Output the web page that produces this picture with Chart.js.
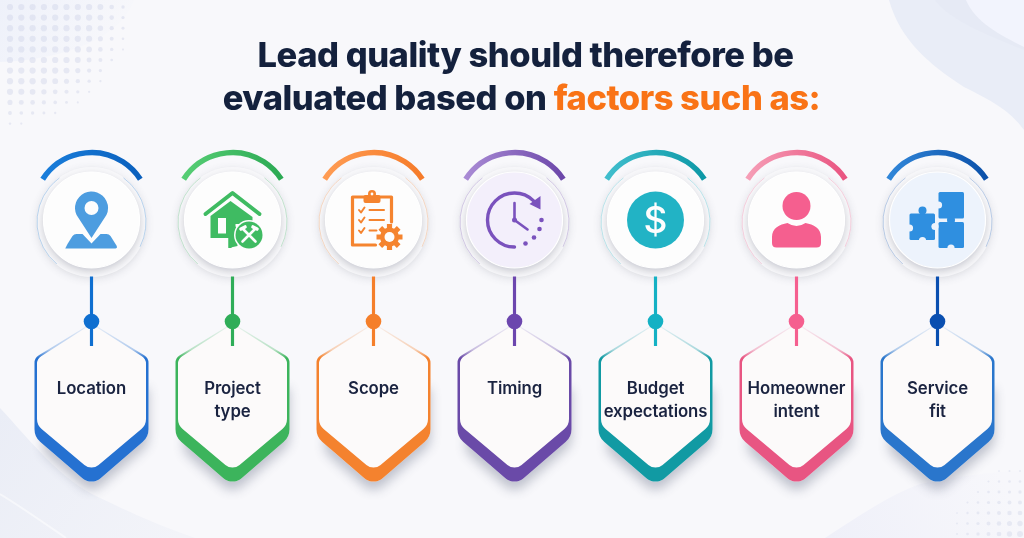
<!DOCTYPE html>
<html><head><meta charset="utf-8">
<style>html,body{margin:0;padding:0;background:#f8f8fb;overflow:hidden}canvas{display:block;filter:blur(.35px)}</style>
<script src="https://cdn.jsdelivr.net/npm/chart.js@4"></script>
</head><body><canvas id="c" width="1024" height="538"></canvas>
<script>
const categories=['Location','Project type','Scope','Timing','Budget expectations','Homeowner intent','Service fit'];
const labelLines=[['Location'],['Project','type'],['Scope'],['Timing'],['Budget','expectations'],['Homeowner','intent'],['Service','fit']];
const nodeLevels=[323,323,323,323,323,323,323];
const stemRanges=[[277,348],[277,348],[277,348],[277,348],[277,348],[277,348],[277,348]];
const titleLine1='Lead quality should therefore be';
const titleLine2a='evaluated based on ';
const titleLine2b='factors such as:';
const nodeColors=['#0f6fd0','#2fad58','#f57f2a','#6c46ae','#14b1c4','#f55f8f','#0a4fb0'];
const arcLight=['#1a7fdc','#58cf76','#ff9d55','#ab8dd6','#42bfce','#f6a0b8','#3288da'];
const arcDark=['#0a5fbc','#2aa852','#f57a28','#6a45a8','#0b97a5','#e9527f','#0a4fa8'];
const hexColors=['#2571d1','#3cb45c','#f4822e','#6a4aa8','#119aa3','#e85582','#2a76cc'];
const iconColors=['#4d9de0','#3fbb62','#f5842f','#7a52bd','#22b3c5','#f55f8f','#2f8fe0'];
const discFills=['#fdfdfd','#fdfdfd','#fdfdfd','#f3effb','#fdfdfd','#fdfdfd','#edf3fc'];
const ink='#14213d', orange='#f97316';

function poly(ctx,pts,radii){
  const n=pts.length;ctx.beginPath();
  const a=pts[n-1],b=pts[0];ctx.moveTo((a[0]+b[0])/2,(a[1]+b[1])/2);
  for(let i=0;i<n;i++){const p=pts[i],q=pts[(i+1)%n];ctx.arcTo(p[0],p[1],q[0],q[1],radii[i]);}
  ctx.closePath();
}
function hexOuter(ctx,c){poly(ctx,[[c,323],[c+57,358],[c+57,437],[c,486],[c-57,437],[c-57,358]],[0,9,17,14,17,9]);}
function hexInner(ctx,c){poly(ctx,[[c,324],[c+54.5,359],[c+54.5,425],[c,471],[c-54.5,425],[c-54.5,359]],[0,9,13,11,13,9]);}

const icons=[
 function pin(g,col){g.fillStyle=col;
  g.beginPath();g.moveTo(-26,28);g.quadraticCurveTo(-26,28,-24,24);g.lineTo(-19,16);g.quadraticCurveTo(-17.5,14,-15,14);g.lineTo(-9,14);g.lineTo(0,23.5);g.lineTo(9,14);g.lineTo(15,14);g.quadraticCurveTo(17.5,14,19,16);g.lineTo(24,24);g.quadraticCurveTo(27,28,24,28.5);g.lineTo(-24,28.5);g.quadraticCurveTo(-27,28.5,-26,28);g.fill();
  g.beginPath();g.arc(0,-12,16.5,Math.PI*0.86,Math.PI*0.14);g.lineTo(0,18);g.closePath();g.fill();
  g.fillStyle='#fdfdfd';g.beginPath();g.arc(0,-12,7,0,7);g.fill();},
 function house(g,col){g.strokeStyle=col;g.fillStyle=col;g.lineCap='round';g.lineJoin='round';
  g.lineWidth=4;g.beginPath();g.moveTo(-27,-6);g.lineTo(0,-27);g.lineTo(27,-6);g.stroke();
  g.beginPath();g.moveTo(-22,-4);g.lineTo(-2,-19);g.lineTo(20,-3);g.lineTo(20,4);g.lineTo(-1,4);g.lineTo(-1,28);g.lineTo(-4,28);g.lineTo(-4,18);g.lineTo(-22,18);g.closePath();g.fill();
  g.fillStyle='#fdfdfd';g.beginPath();g.rect(-14.5,-2,8,15.5);g.fill();
  g.fillStyle=col;g.beginPath();g.moveTo(-3,-3);g.lineTo(3,-3);g.lineTo(3,6);g.lineTo(5,12);g.lineTo(5,26);g.lineTo(-4,28);g.lineTo(-4,12);g.lineTo(-3,6);g.closePath();g.fill();
  g.fillStyle='#fdfdfd';g.beginPath();g.arc(16.5,15,15,0,7);g.fill();
  g.fillStyle=col;g.beginPath();g.arc(16.5,15,13.5,0,7);g.fill();
  g.strokeStyle='#fdfdfd';g.lineWidth=2.6;g.lineCap='round';g.beginPath();g.moveTo(10,8.5);g.lineTo(23,21.5);g.moveTo(23,8.5);g.lineTo(10,21.5);g.stroke();
  g.lineWidth=3.6;g.beginPath();g.moveTo(8.5,9);g.lineTo(12.5,7);g.moveTo(20.5,7);g.lineTo(24.5,9);g.stroke();},
 function clip(g,col){g.strokeStyle=col;g.fillStyle=col;g.lineWidth=3.2;g.lineJoin='round';g.lineCap='round';
  g.beginPath();g.moveTo(2,25);g.lineTo(-21,25);g.lineTo(-21,-23);g.lineTo(18,-23);g.lineTo(18,2);g.stroke();
  g.beginPath();g.roundRect(-10,-25,17,8,2);g.fill();g.beginPath();g.arc(-1.5,-26,4,0,7);g.fill();
  g.fillStyle='#fdfdfd';g.beginPath();g.arc(-1.5,-26,1.4,0,7);g.fill();g.fillStyle=col;
  g.lineWidth=2;[-10,0,10.5].forEach((y,i)=>{g.beginPath();g.moveTo(-14.5,y);g.lineTo(-12.5,y+2.5);g.lineTo(-9,y-2.5);g.stroke();
   g.beginPath();g.moveTo(-4,y);g.lineTo(i==2?3:10.5,y);g.stroke();});
  g.beginPath();
  for(let k=0;k<8;k++){const a=k*Math.PI/4;const ca=Math.cos(a),sa=Math.sin(a);const xs=[[-2.6,-13],[2.6,-13],[2.6,-7],[-2.6,-7]];g.moveTo(16+xs[0][0]*ca-xs[0][1]*sa,17+xs[0][0]*sa+xs[0][1]*ca);for(let j=1;j<4;j++)g.lineTo(16+xs[j][0]*ca-xs[j][1]*sa,17+xs[j][0]*sa+xs[j][1]*ca);g.closePath();}
  g.fill();g.beginPath();g.arc(16,17,9.5,0,7);g.fill();g.fillStyle='#fdfdfd';g.beginPath();g.arc(16,17,5,0,7);g.fill();},
 function clock(g,col){g.strokeStyle=col;g.fillStyle=col;g.lineWidth=3.4;g.lineCap='round';g.lineJoin='round';
  g.beginPath();g.arc(0,0,27,Math.PI*0.5,Math.PI*1.75);g.stroke();
  g.beginPath();g.moveTo(15,-16);g.lineTo(26,-10.5);g.lineTo(26,-24);g.closePath();g.fill();
  g.lineWidth=2.6;g.beginPath();g.moveTo(0,-17);g.lineTo(0,0);g.lineTo(13,9.5);g.stroke();
  g.beginPath();g.arc(0,0,2.5,0,7);g.fill();
  [[27,0],[25,9],[19.5,17.5],[11,23.5]].forEach(p=>{g.beginPath();g.arc(p[0],p[1],2.3,0,7);g.fill();});},
 function dollar(g,col){g.fillStyle=col;g.beginPath();g.arc(0,0,28.5,0,7);g.fill();
  g.fillStyle='#fdfdfd';g.font='500 37px Inter';g.textAlign='center';g.textBaseline='middle';g.fillText('$',0,1.5);},
 function person(g,col){g.fillStyle=col;g.beginPath();g.arc(0,-14,14,0,7);g.fill();
  g.beginPath();g.moveTo(-24.5,23);g.lineTo(-24.5,17);g.bezierCurveTo(-24.5,8,-17,4.5,-9,3);g.quadraticCurveTo(0,9,9,3);g.bezierCurveTo(17,4.5,24.5,8,24.5,17);g.lineTo(24.5,23);g.quadraticCurveTo(24.5,27.5,20,27.5);g.lineTo(-20,27.5);g.quadraticCurveTo(-24.5,27.5,-24.5,23);g.fill();},
 function puzzle(g,col,fill){g.fillStyle=col;
  g.beginPath();g.roundRect(-28,-6.5,25.5,26.5,1.5);g.fill();g.beginPath();g.arc(-15,-9.5,4,0,7);g.fill();
  g.beginPath();g.roundRect(1,-28,25.5,26.5,1.5);g.fill();
  g.beginPath();g.roundRect(1,2,25.5,26,1.5);g.fill();g.beginPath();g.arc(13.5,0,4,0,7);g.fill();
  g.fillStyle=fill;g.beginPath();g.arc(-2.5,6.5,3.6,0,7);g.arc(-28,8,3.6,0,7);g.fill();
  g.beginPath();g.arc(-15,20.5,3.6,0,7);g.fill();g.beginPath();g.arc(1,-15,3.6,0,7);g.fill();g.beginPath();g.arc(13.5,28,3.6,0,7);g.fill();}
];

const backdrop={id:'backdrop',beforeDraw(chart){const g=chart.ctx;g.save();
  g.fillStyle='#f8f8fb';g.fillRect(0,0,1024,538);
  g.fillStyle='#e9edf7';g.beginPath();g.moveTo(889,0);g.bezierCurveTo(900,40,930,65,964,87);g.bezierCurveTo(990,100,1010,110,1024,130);g.lineTo(1024,0);g.closePath();g.fill();
  g.fillStyle='#e6eaf5';g.beginPath();g.moveTo(935,0);g.bezierCurveTo(950,20,980,32,1024,50);g.lineTo(1024,0);g.closePath();g.fill();
  g.fillStyle='#f2f4fd';g.beginPath();g.moveTo(966,0);g.bezierCurveTo(975,22,1000,35,1024,47);g.lineTo(1024,0);g.closePath();g.fill();
  let gr=g.createLinearGradient(0,0,110,70);gr.addColorStop(0,'#eef1fa');gr.addColorStop(1,'#f8f8fb');
  g.fillStyle=gr;g.beginPath();g.moveTo(0,0);g.lineTo(134,0);g.bezierCurveTo(120,40,60,60,0,62);g.closePath();g.fill();
  gr=g.createLinearGradient(0,410,180,538);gr.addColorStop(0,'#eaedf6');gr.addColorStop(1,'#f3f4f9');
  g.fillStyle=gr;g.beginPath();g.moveTo(0,408);g.bezierCurveTo(30,440,60,480,100,498);g.bezierCurveTo(130,512,150,522,195,538);g.lineTo(0,538);g.closePath();g.fill();
  g.strokeStyle='rgba(255,255,255,.5)';g.lineWidth=2;g.beginPath();g.moveTo(0,494);g.bezierCurveTo(20,506,40,520,66,538);g.stroke();
  gr=g.createLinearGradient(830,538,1000,470);gr.addColorStop(0,'#eff0f9');gr.addColorStop(1,'#f7f7fb');
  g.fillStyle=gr;g.beginPath();g.moveTo(825,538);g.bezierCurveTo(860,515,890,495,920,484);g.bezierCurveTo(960,475,1000,472,1024,470);g.lineTo(1024,538);g.closePath();g.fill();
  for(let r=0;r<12;r++)for(let k=0;k<12;k++){const x=10+k*11.3,y=7+r*10.6;const d=Math.max(0,1-((x/135)**2+(y/128)**2)**1.2);
    if(d<=0.02)continue;g.fillStyle='rgba(205,210,232,.42)';g.beginPath();g.arc(x,y,Math.min(3.1,0.9+d*4),0,7);g.fill();}
  for(let r=0;r<7;r++)for(let k=0;k<7;k++){const x=1020-k*10.5,y=534-r*10.5;const d=1-Math.hypot(k/6.5,r/6.5);
    if(d<=0.02)continue;g.fillStyle='rgba(205,210,232,.38)';g.beginPath();g.arc(x,y,0.8+d*2.2,0,7);g.fill();}
  g.restore();}};

const decor={id:'decor',beforeDatasetsDraw(chart){const g=chart.ctx,xs=chart.scales.x;
  categories.forEach((cat,i)=>{const c=xs.getPixelForValue(i);g.save();
    g.save();g.shadowColor='rgba(60,70,100,.30)';g.shadowBlur=11;g.shadowOffsetY=8;g.fillStyle='#f8f8fb';
    poly(g,[[c,380],[c+57,380],[c+57,437],[c,486],[c-57,437]],[0,4,17,14,17]);g.fill();g.restore();
    const hg=g.createLinearGradient(0,324,0,358);hg.addColorStop(0,hexColors[i]+'10');hg.addColorStop(.75,hexColors[i]+'55');hg.addColorStop(1,hexColors[i]);
    g.fillStyle=hg;hexOuter(g,c);g.fill();
    g.fillStyle='#fcfafa';hexInner(g,c);g.fill();
    const cy=220;
    g.save();g.shadowColor='rgba(70,75,100,.14)';g.shadowBlur=8;g.shadowOffsetY=2;g.fillStyle='#f9f9fb';g.beginPath();g.arc(c,cy+2,55,0,7);g.fill();g.restore();
    g.strokeStyle=nodeColors[i]+'44';g.lineWidth=1;
    g.beginPath();g.arc(c,cy+2,54.5,Math.PI*0.72,Math.PI*1.30);g.stroke();
    g.beginPath();g.arc(c,cy+2,54.5,-Math.PI*0.30,Math.PI*0.15);g.stroke();
    g.save();g.shadowColor='rgba(50,55,80,.28)';g.shadowBlur=8;g.shadowOffsetY=3;g.fillStyle=discFills[i];g.beginPath();g.arc(c,cy,48,0,7);g.fill();g.restore();
    g.strokeStyle='#ffffff';g.lineWidth=1.2;g.beginPath();g.arc(c,cy,48,0,7);g.stroke();
    const ag=g.createLinearGradient(c-52,0,c+52,0);ag.addColorStop(0,arcLight[i]);ag.addColorStop(1,arcDark[i]);
    g.strokeStyle=ag;g.lineWidth=5.5;g.lineCap='butt';g.beginPath();g.arc(c,210.5,58,-Math.PI/2-1.0,-Math.PI/2+1.0);g.stroke();
    g.save();g.translate(c,cy);icons[i](g,iconColors[i],discFills[i]);g.restore();
    g.restore();});
 },
 afterDatasetsDraw(chart){const g=chart.ctx,xs=chart.scales.x;g.save();
  g.textBaseline='alphabetic';g.textAlign='left';g.font='800 34.5px Inter';g.letterSpacing='-0.47px';
  g.fillStyle=ink;let w=g.measureText(titleLine1).width;g.fillText(titleLine1,525.5-w/2,67);
  const wa=g.measureText(titleLine2a).width,wb=g.measureText(titleLine2b).width;
  const x0=521.5-(wa+wb)/2;g.fillText(titleLine2a,x0,110);g.fillStyle=orange;g.fillText(titleLine2b,x0+wa,110);
  g.letterSpacing='-0.1px';g.font='600 16.8px Inter';g.textAlign='center';g.fillStyle='#1a2340';
  labelLines.forEach((ls,i)=>{const c=xs.getPixelForValue(i);ls.forEach((s,k)=>g.fillText(s,c,394+k*22.5));});
  g.restore();}};

new Chart(document.getElementById('c'),{
  type:'bar',
  data:{labels:categories,datasets:[
    {type:'line',label:'Nodes',data:nodeLevels,showLine:false,pointRadius:7.8,pointHoverRadius:7.8,pointBorderWidth:0,pointBackgroundColor:nodeColors,order:0},
    {type:'bar',label:'Stems',data:stemRanges,backgroundColor:nodeColors,barThickness:2.5,borderWidth:0,order:1}
  ]},
  options:{responsive:false,animation:false,devicePixelRatio:1,
    layout:{padding:{left:21,right:16,top:0,bottom:0}},
    plugins:{legend:{display:false},tooltip:{enabled:false},title:{display:false}},
    scales:{x:{type:'category',display:false,offset:true},y:{type:'linear',display:false,min:0,max:538,reverse:true}}},
  plugins:[backdrop,decor]
});
</script></body></html>
